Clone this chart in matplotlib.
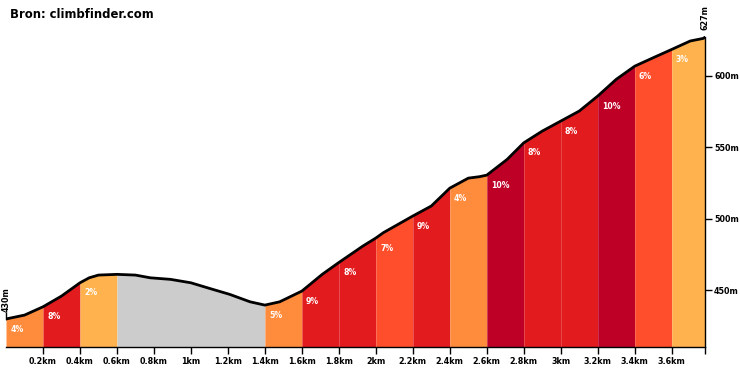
import matplotlib
matplotlib.use("Agg")
import matplotlib.pyplot as plt

# elevation profile (km, m)
dist = [0.0, 0.1, 0.2, 0.3, 0.4, 0.45, 0.5, 0.6, 0.7, 0.78, 0.89, 1.0, 1.1, 1.21,
        1.32, 1.4, 1.48, 1.6, 1.71, 1.8, 1.93, 2.0, 2.04, 2.2, 2.3, 2.4, 2.5, 2.56,
        2.6, 2.71, 2.8, 2.9, 3.0, 3.1, 3.2, 3.3, 3.4, 3.5, 3.6, 3.7, 3.77, 3.78]
elev = [430, 432.7, 438.5, 446, 455.3, 458.8, 460.7, 461.2, 460.7, 458.8, 457.7, 455.3,
        451.4, 447.2, 442, 439.7, 442, 449.5, 461.2, 469.5, 481, 486.6, 490.3, 502, 509,
        521.5, 528.5, 529.5, 530.6, 541.6, 553.2, 561.4, 568.4, 575.4, 585.9, 597.6,
        606.8, 612.7, 618.5, 624.4, 626.2, 627]

# segments (start km) and their gradient labels; None = descent
seg_edges = [0, 0.2, 0.4, 0.6, 1.4, 1.6, 1.8, 2.0, 2.2, 2.4, 2.6, 2.8, 3.0, 3.2, 3.4, 3.6, 3.78]
seg_grade = [4, 8, 2, None, 5, 9, 8, 7, 9, 4, 10, 8, 8, 10, 6, 3]

xtick_vals = [0.2, 0.4, 0.6, 0.8, 1.0, 1.2, 1.4, 1.6, 1.8, 2.0, 2.2, 2.4, 2.6, 2.8, 3.0, 3.2, 3.4, 3.6]
xtick_labels = ["0.2km", "0.4km", "0.6km", "0.8km", "1km", "1.2km", "1.4km", "1.6km", "1.8km",
                "2km", "2.2km", "2.4km", "2.6km", "2.8km", "3km", "3.2km", "3.4km", "3.6km"]
ytick_vals = [450, 500, 550, 600]
ytick_labels = ["450m", "500m", "550m", "600m"]


def grade_color(g):
    if g is None:
        return "#cccccc"
    if g <= 3:
        return "#ffb24e"
    if g <= 5:
        return "#ff8c3c"
    if g <= 7:
        return "#ff4e2c"
    if g <= 9:
        return "#e21b1e"
    return "#be0027"


ymin, ymax = 410.4, 640
fs = 5.8

fig = plt.figure(figsize=(7.4, 3.7), dpi=100)
ax = fig.add_axes([6 / 740, 23 / 370, 699 / 740, 328.3 / 370])

for i, g in enumerate(seg_grade):
    lo, hi = seg_edges[i], seg_edges[i + 1]
    xs = [d for d in dist if lo - 1e-9 <= d <= hi + 1e-9]
    ys = [e for d, e in zip(dist, elev) if lo - 1e-9 <= d <= hi + 1e-9]
    ax.fill_between(xs, ymin, ys, color=grade_color(g), lw=0)
    if g is not None:
        ax.annotate(f"{g}%", (lo, ys[0]), xytext=(3, -4), textcoords="offset points",
                    ha="left", va="top", color="white", fontsize=5.6, fontweight="bold")

ax.plot(dist, elev, color="black", lw=2, solid_capstyle="round", solid_joinstyle="round")

ax.set_xlim(0, 3.78)
ax.set_ylim(ymin, ymax)

for s in ["top", "left"]:
    ax.spines[s].set_visible(False)
ax.spines["bottom"].set_linewidth(1)
ax.spines["right"].set_linewidth(1)
ax.spines["right"].set_bounds(ymin, 627)

ax.set_xticks(xtick_vals + [3.78])
ax.set_xticklabels(xtick_labels + [""], fontsize=fs, fontweight="bold")
ax.tick_params(axis="x", length=5, width=1, pad=2)

ax.yaxis.tick_right()
ax.set_yticks(ytick_vals)
ax.set_yticklabels(ytick_labels, fontsize=fs, fontweight="bold")
ax.tick_params(axis="y", length=5, width=1, pad=1.5)

# start and end heights
ax.plot([0, 0], [elev[0], elev[0] + 4], color="black", lw=1, clip_on=False)
ax.annotate("430m", (0, elev[0]), xytext=(0, 5), textcoords="offset points",
            rotation=90, ha="center", va="bottom", fontsize=fs, fontweight="bold",
            annotation_clip=False)
ax.annotate("627m", (3.78, elev[-1]), xytext=(0, 5), textcoords="offset points",
            rotation=90, ha="center", va="bottom", fontsize=fs, fontweight="bold",
            annotation_clip=False)

fig.text(10 / 740, 1 - 14 / 370, "Bron: climbfinder.com", ha="left", va="center",
         fontsize=8.4, fontweight="bold")

fig.savefig("out.png", dpi=100)
